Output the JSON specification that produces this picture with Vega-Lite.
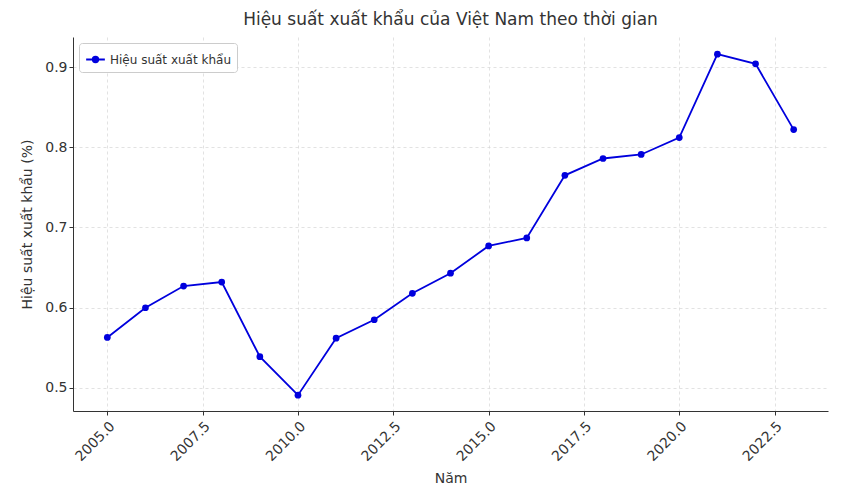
{
  "$schema": "https://vega.github.io/schema/vega-lite/v6.json",
  "width": 755,
  "height": 374,
  "autosize": {"type": "none"},
  "padding": {"left": 73, "top": 37, "right": 24, "bottom": 83},
  "background": "white",
  "config": {
    "font": "DejaVu Sans",
    "view": {"stroke": null},
    "axis": {"labelFont": "DejaVu Sans", "titleFont": "DejaVu Sans", "labelFontSize": 14, "titleFontSize": 14, "titleFontWeight": "normal", "labelColor": "#333", "titleColor": "#333", "gridColor": "#d6d6d6", "gridDash": [3, 3], "gridWidth": 0.7, "domainColor": "#333", "tickColor": "#333", "tickSize": 4}
  },
  "title": {"text": "Hiệu suất xuất khẩu của Việt Nam theo thời gian", "fontSize": 17, "fontWeight": "normal", "color": "#333", "font": "DejaVu Sans", "offset": 8},
  "data": {"values": [
    {"Năm": 2005, "v": 0.563, "s": "Hiệu suất xuất khẩu"},
    {"Năm": 2006, "v": 0.600, "s": "Hiệu suất xuất khẩu"},
    {"Năm": 2007, "v": 0.627, "s": "Hiệu suất xuất khẩu"},
    {"Năm": 2008, "v": 0.632, "s": "Hiệu suất xuất khẩu"},
    {"Năm": 2009, "v": 0.539, "s": "Hiệu suất xuất khẩu"},
    {"Năm": 2010, "v": 0.491, "s": "Hiệu suất xuất khẩu"},
    {"Năm": 2011, "v": 0.562, "s": "Hiệu suất xuất khẩu"},
    {"Năm": 2012, "v": 0.585, "s": "Hiệu suất xuất khẩu"},
    {"Năm": 2013, "v": 0.618, "s": "Hiệu suất xuất khẩu"},
    {"Năm": 2014, "v": 0.643, "s": "Hiệu suất xuất khẩu"},
    {"Năm": 2015, "v": 0.677, "s": "Hiệu suất xuất khẩu"},
    {"Năm": 2016, "v": 0.687, "s": "Hiệu suất xuất khẩu"},
    {"Năm": 2017, "v": 0.765, "s": "Hiệu suất xuất khẩu"},
    {"Năm": 2018, "v": 0.786, "s": "Hiệu suất xuất khẩu"},
    {"Năm": 2019, "v": 0.791, "s": "Hiệu suất xuất khẩu"},
    {"Năm": 2020, "v": 0.812, "s": "Hiệu suất xuất khẩu"},
    {"Năm": 2021, "v": 0.916, "s": "Hiệu suất xuất khẩu"},
    {"Năm": 2022, "v": 0.904, "s": "Hiệu suất xuất khẩu"},
    {"Năm": 2023, "v": 0.822, "s": "Hiệu suất xuất khẩu"}
  ]},
  "mark": {"type": "line", "strokeWidth": 1.8, "point": {"size": 45, "filled": true, "opacity": 1}},
  "encoding": {
    "x": {"field": "Năm", "type": "quantitative", "scale": {"domain": [2004.1, 2023.9], "nice": false, "zero": false},
      "axis": {"title": "Năm", "values": [2005, 2007.5, 2010, 2012.5, 2015, 2017.5, 2020, 2022.5], "format": ".1f", "labelAngle": -45, "labelAlign": "right", "labelBaseline": "top", "labelPadding": 4, "titlePadding": 8}},
    "y": {"field": "v", "type": "quantitative", "scale": {"domain": [0.4713, 0.9374], "nice": false, "zero": false},
      "axis": {"title": "Hiệu suất xuất khẩu (%)", "values": [0.5, 0.6, 0.7, 0.8, 0.9], "format": ".1f", "titlePadding": 10}},
    "color": {"field": "s", "type": "nominal", "scale": {"range": ["#0000dd"]},
      "legend": {"title": null, "orient": "top-left", "offset": 6, "labelFontSize": 12, "labelColor": "#333", "labelFont": "DejaVu Sans", "strokeColor": "#ccc", "fillColor": "white", "padding": 6, "cornerRadius": 3, "symbolType": "M-1,0H1M-0.3,0a0.3,0.3 0 1,0 0.6,0a0.3,0.3 0 1,0 -0.6,0", "symbolSize": 350, "symbolStrokeWidth": 1.8}}
  }
}
